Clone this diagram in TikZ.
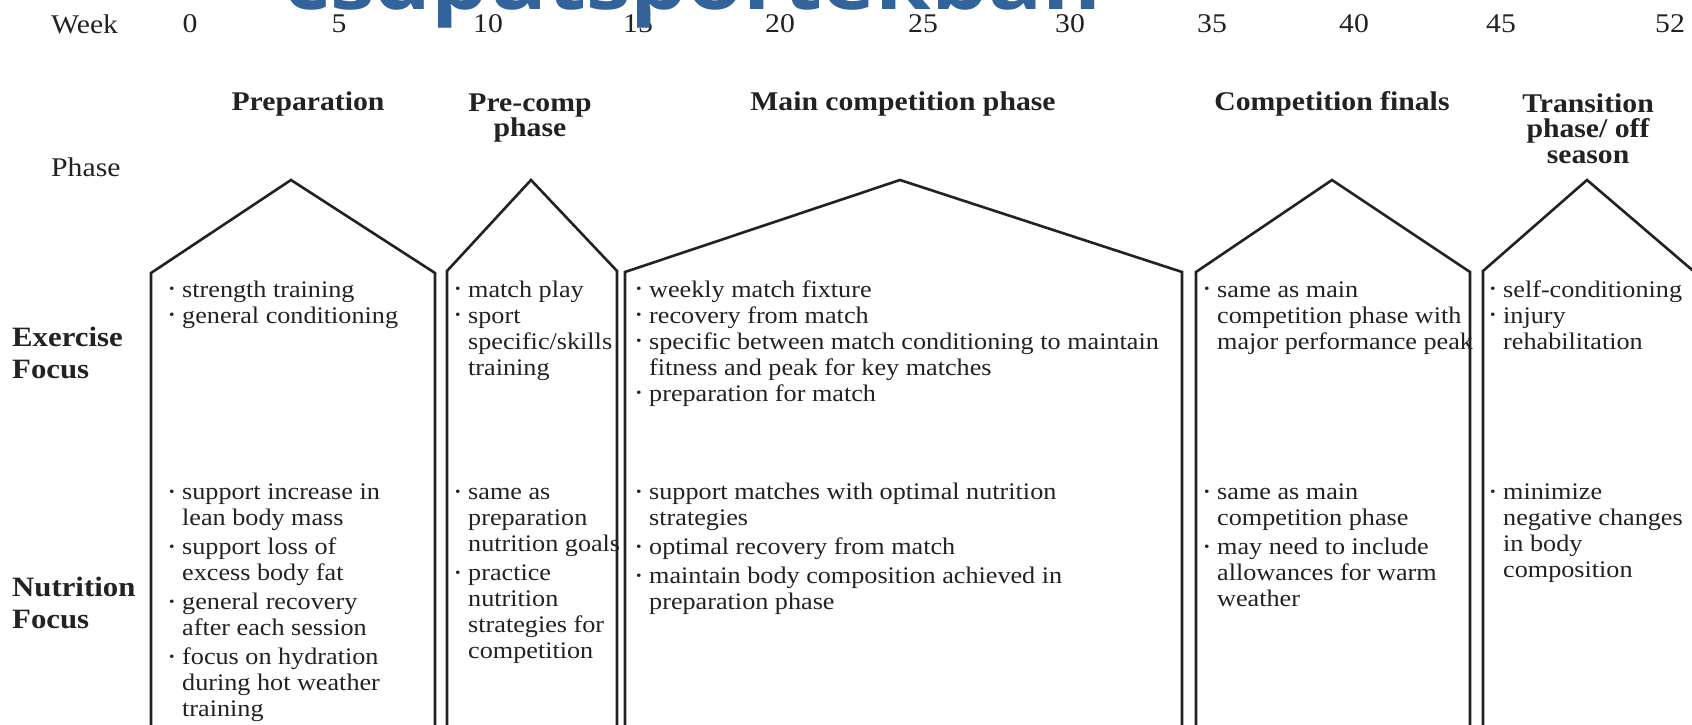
\documentclass[tikz,border=0pt]{standalone}
\usepackage{fontspec}
\setmainfont{Liberation Serif}[FakeStretch=1.1]
\newfontfamily\wmfont{Open Sans}[FakeStretch=1.15]
\definecolor{wmblue}{RGB}{50,100,155}
\definecolor{ink}{RGB}{34,34,34}
\newcommand{\bu}{\makebox[13pt][l]{\raisebox{0.3ex}{\scalebox{0.6}{\textbullet}}}}
\newcommand{\ci}{\hspace*{13pt}}
\newcommand{\fs}{\rule{0pt}{18pt}}
\tikzset{
  house/.style={line width=2.6pt, draw=ink, line join=miter},
  body/.style={font=\fontsize{23.8}{26}\selectfont, align=left, anchor=north west, inner sep=0pt, text=ink},
  ttl/.style={font=\bfseries\fontsize{27}{25.5}\selectfont, align=center, anchor=north, inner sep=0pt, text=ink},
  rowlab/.style={font=\bfseries\fontsize{28}{32}\selectfont, align=left, anchor=north west, inner sep=0pt, text=ink},
  hdr/.style={font=\fontsize{27}{27}\selectfont, anchor=base, inner sep=0pt, text=ink},
}
\begin{document}
\begin{tikzpicture}[x=1pt,y=-1pt]
\useasboundingbox (0,0) rectangle (1692,725);
\clip (0,0) rectangle (1692,725);
\fill[white] (0,0) rectangle (1692,725);

% houses
\draw[house] (151,735) -- (151,273) -- (291,180) -- (435,273) -- (435,735);
\draw[house] (447,735) -- (447,271) -- (531,180) -- (617,271) -- (617,735);
\draw[house] (625,735) -- (625,272) -- (900,180) -- (1182,272) -- (1182,735);
\draw[house] (1196,735) -- (1196,272) -- (1332,180) -- (1470,272) -- (1470,735);
\draw[house] (1483,735) -- (1483,271) -- (1587,180) -- (1698,275) -- (1698,735);

% header row
\node[hdr, anchor=base west] (week) at (51,34) {Week};
\foreach \x/\n in {190/0, 339/5, 488/10, 638/15, 780/20, 923/25, 1070/30, 1212/35, 1354/40, 1501/45}
  \node[hdr] (w\n) at (\x,33) {\n};
\node[hdr, anchor=base west] (w52) at (1655,33) {52};
\node[hdr, anchor=base west] (phase) at (51,176) {Phase};

% phase titles
\node[ttl] (t1) at (308,90) {\rule{0pt}{20pt}Preparation};
\node[ttl] (t2) at (530,91) {\rule{0pt}{20pt}Pre-comp\\phase};
\node[ttl] (t3) at (903,90) {\rule{0pt}{20pt}Main competition phase};
\node[ttl] (t4) at (1332,90) {\rule{0pt}{20pt}Competition finals};
\node[ttl] (t5) at (1588,92) {\rule{0pt}{20pt}Transition\\phase/ off\\season};

% row labels
\node[rowlab] (exl) at (12,324.5) {\rule{0pt}{22pt}Exercise\\Focus};
\node[rowlab] (nul) at (12,574.5) {\rule{0pt}{22pt}Nutrition\\Focus};

% exercise focus
\node[body] (ex1) at (169,279) {\fs\bu strength training\\\bu general conditioning};
\node[body] (ex2) at (455,279) {\fs\bu match play\\\bu sport\\\ci specific/skills\\\ci training};
\node[body] (ex3) at (636,279) {\fs\bu weekly match fixture\\\bu recovery from match\\\bu specific between match conditioning to maintain\\\ci fitness and peak for key matches\\\bu preparation for match};
\node[body] (ex4) at (1204,279) {\fs\bu same as main\\\ci competition phase with\\\ci major performance peak};
\node[body] (ex5) at (1490,279) {\fs\bu self-conditioning\\\bu injury\\\ci rehabilitation};

% nutrition focus
\node[body] (nu1) at (169,481.5) {\fs\bu support increase in\\\ci lean body mass\\[3pt]\bu support loss of\\\ci excess body fat\\[3pt]\bu general recovery\\\ci after each session\\[3pt]\bu focus on hydration\\\ci during hot weather\\\ci training};
\node[body] (nu2) at (455,481.5) {\fs\bu same as\\\ci preparation\\\ci nutrition goals\\[3pt]\bu practice\\\ci nutrition\\\ci strategies for\\\ci competition};
\node[body] (nu3) at (636,481.5) {\fs\bu support matches with optimal nutrition\\\ci strategies\\[3pt]\bu optimal recovery from match\\[3pt]\bu maintain body composition achieved in\\\ci preparation phase};
\node[body] (nu4) at (1204,481.5) {\fs\bu same as main\\\ci competition phase\\[3pt]\bu may need to include\\\ci allowances for warm\\\ci weather};
\node[body] (nu5) at (1490,481.5) {\fs\bu minimize\\\ci negative changes\\\ci in body\\\ci composition};

% watermark
\node[font=\wmfont\bfseries\fontsize{78}{78}\selectfont, text=wmblue, anchor=base west, inner sep=0pt] (wm) at (284,10) {csdputsportekban};
\end{tikzpicture}
\end{document}
